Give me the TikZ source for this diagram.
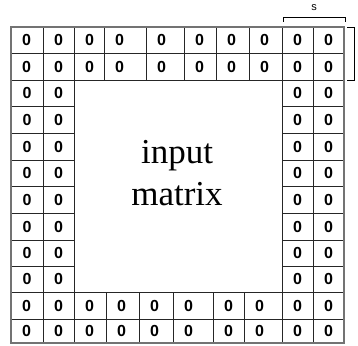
\documentclass[tikz,border=0pt]{standalone}
\usepackage{fontspec}
\setmainfont{Liberation Serif}
\newfontfamily\cellfont{Liberation Sans}
\usetikzlibrary{positioning}
\tikzset{
  zero/.style   = { font=\cellfont\bfseries\fontsize{16}{18}\selectfont, inner sep=0pt },
  gridln/.style = { draw=black!85, line width=1pt },
  border/.style = { draw=black!55, line width=1.8pt },
  brace/.style  = { draw=black, line width=0.9pt },
  bigtxt/.style = { font=\fontsize{35}{42}\selectfont, inner sep=0pt, anchor=base },
  sz/.style     = { font=\cellfont\fontsize{11}{13}\selectfont, inner sep=0pt }
}

\begin{document}
\begin{tikzpicture}[x=1pt,y=-1pt]
  \useasboundingbox (0,0) rectangle (358,345);

  % padding rows on top
  \foreach \y in {27,53,80} \draw[gridln] (11,\y) -- (344,\y);
  \foreach \x in {11,43,74,104,146,184,216,249,282,313,344}
    \draw[gridln] (\x,27) -- (\x,80);
  % padding columns on the sides
  \foreach \x in {11,43,74,282,313,344}
    \draw[gridln] (\x,80) -- (\x,292);
  \foreach \y in {106,133,160,186,213,240,266} {
    \draw[gridln] (11,\y) -- (74,\y);
    \draw[gridln] (282,\y) -- (344,\y);
  }
  % padding rows at the bottom
  \foreach \y in {292,319,343} \draw[gridln] (11,\y) -- (344,\y);
  \foreach \x in {11,43,74,106,139,173,213,244,282,313,344}
    \draw[gridln] (\x,292) -- (\x,343);
  \draw[border] (11,27) rectangle (344,343);

  % the zeros
  \foreach \x [count=\i] in {11,43,74,104,146,184,216,249,282,313} {
    \node[zero] (ta-\i) at (\x+15.5,40) {0};
    \node[zero] (tb-\i) at (\x+15.5,66.5) {0};
  }
  \foreach \y [count=\j] in {93,119.5,146.5,173,199.5,226.5,253,279} {
    \node[zero] (l\j-1) at (27,\y) {0};
    \node[zero] (l\j-2) at (58.5,\y) {0};
    \node[zero] (r\j-1) at (297.5,\y) {0};
    \node[zero] (r\j-2) at (328.5,\y) {0};
  }
  \foreach \x [count=\i] in {11,43,74,106,139,173,213,244,282,313} {
    \node[zero] (ba-\i) at (\x+15.5,305.5) {0};
    \node[zero] (bb-\i) at (\x+15.5,331) {0};
  }

  \node[bigtxt] (inp) at (177,163) {input};
  \node[bigtxt] (mtx) at (177,205) {matrix};

  % stride brackets
  \coordinate (s1) at (283,22);
  \coordinate (s2) at (345,22);
  \draw[brace] (s1) -- ++(0,-5) -| (s2);
  \node[sz] (s) at (314,8) {s};
  \coordinate (h1) at (347,27);
  \coordinate (h2) at (347,80);
  \draw[brace] (h1) -- ++(7,0) |- (h2);
\end{tikzpicture}
\end{document}
